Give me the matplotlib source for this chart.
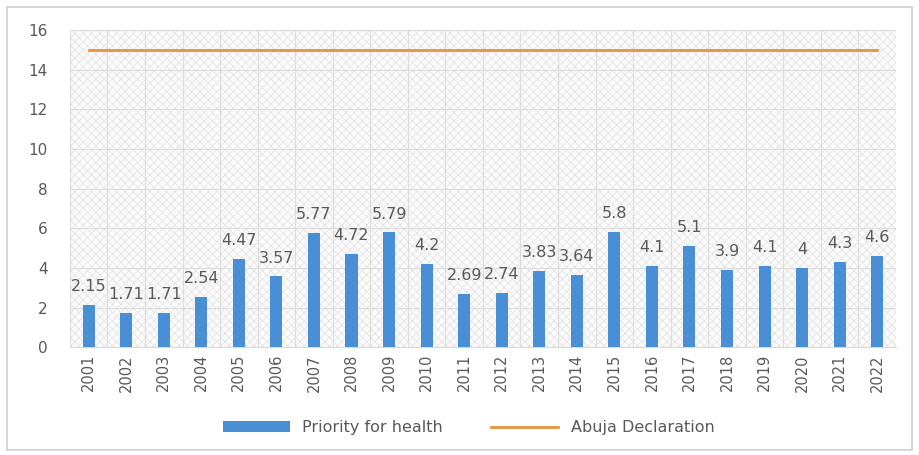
import numpy as np
import matplotlib as mpl
mpl.use('Agg')
import matplotlib.pyplot as plt
from matplotlib.patches import Rectangle

years = [str(y) for y in range(2001, 2023)]
priority = [2.15, 1.71, 1.71, 2.54, 4.47, 3.57, 5.77, 4.72, 5.79, 4.2, 2.69,
            2.74, 3.83, 3.64, 5.8, 4.1, 5.1, 3.9, 4.1, 4, 4.3, 4.6]
abuja = [15] * len(years)
labels = ['2.15', '1.71', '1.71', '2.54', '4.47', '3.57', '5.77', '4.72', '5.79', '4.2', '2.69',
          '2.74', '3.83', '3.64', '5.8', '4.1', '5.1', '3.9', '4.1', '4', '4.3', '4.6']

txt = '#595959'
mpl.rcParams['hatch.linewidth'] = 0.5
fig = plt.figure(figsize=(9.19, 4.55), dpi=100)
fig.patches.append(Rectangle((0.008, 0.01), 0.984, 0.975, transform=fig.transFigure,
                             fill=False, edgecolor='#d0d0d0', lw=1.2))
ax = fig.add_axes([0.076, 0.237, 0.899, 0.697])

x = np.arange(len(years))
# hatched background like the original
ax.add_patch(Rectangle((0, 0), 1, 1, transform=ax.transAxes, facecolor='#fafafa',
                       edgecolor='#e2e2e2', hatch='xxxx', lw=0, zorder=0))

bars = ax.bar(x, priority, width=0.32, color='#4a8fd6', zorder=3, label='Priority for health')
line, = ax.plot(x, abuja, color='#e8943a', lw=2, zorder=3, label='Abuja Declaration')
for xi, v, lab in zip(x, priority, labels):
    ax.text(xi, v + 0.55, lab, ha='center', va='bottom', fontsize=11.5, color=txt, zorder=4)

ax.set_xlim(-0.5, len(years) - 0.5)
ax.set_ylim(0, 16)
ax.set_yticks(range(0, 17, 2))
ax.set_xticks(x)
ax.set_xticklabels(years, rotation=90, fontsize=10.5, color=txt)
ax.tick_params(axis='y', labelsize=11, colors=txt, length=0, pad=16)
ax.tick_params(axis='x', length=0, pad=5)
ax.set_xticks(np.arange(-0.5, len(years), 1), minor=True)
ax.grid(which='minor', axis='x', color='#dcdcdc', lw=0.8, zorder=1)
ax.grid(which='major', axis='y', color='#dcdcdc', lw=0.8, zorder=1)
ax.grid(which='major', axis='x', visible=False)
ax.tick_params(which='minor', length=0)
for s in ax.spines.values():
    s.set_visible(False)
ax.spines['bottom'].set_visible(True)
ax.spines['bottom'].set_color('#d9d9d9')

fig.legend(handles=[bars, line], loc='center', bbox_to_anchor=(0.51, 0.06), ncol=2,
           frameon=False, fontsize=11.5, labelcolor=txt, handlelength=4.2,
           columnspacing=3, handleheight=0.7)
plt.savefig('out.png', dpi=100)
